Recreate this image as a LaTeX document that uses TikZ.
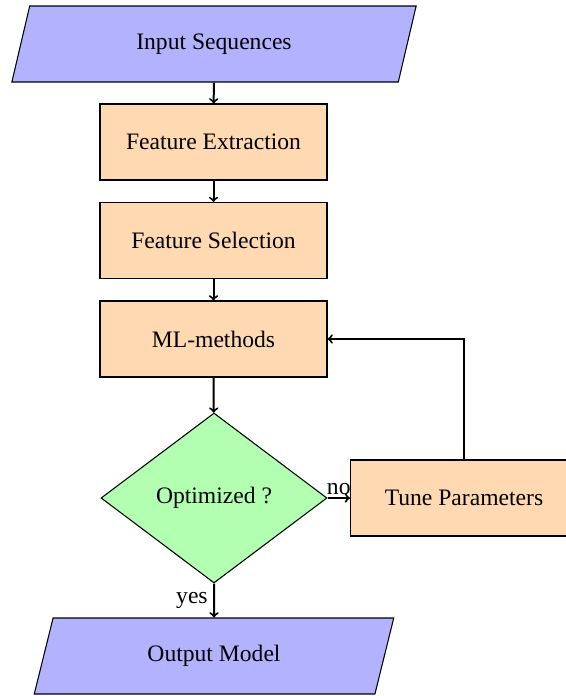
\documentclass[tikz,border=0pt]{standalone}
\usepackage{fontspec}
\setmainfont{Liberation Serif}
\usetikzlibrary{shapes.geometric}
\begin{document}
\begin{tikzpicture}[x=0.75pt,y=-0.75pt,
  every node/.style={font=\fontsize{17.7}{21}\selectfont},
  box/.style={draw=black, line width=0.8pt, rectangle, fill=orange!30, minimum width=170.25pt, minimum height=57pt, inner sep=0pt},
  io/.style={draw=black, line width=0.8pt, trapezium, trapezium left angle=70, trapezium right angle=110, trapezium stretches=true, fill=blue!30, minimum height=57pt, inner sep=0pt},
  decision/.style={draw=black, line width=0.8pt, diamond, fill=green!30, minimum width=169.5pt, minimum height=127.5pt, inner sep=0pt, aspect=1.33},
  conn/.style={->, line width=1.5pt},
  lbl/.style={font=\fontsize{17.7}{21}\selectfont, inner sep=4pt}
]
\useasboundingbox (0,0) rectangle (566,696);
\node[io, minimum width=303.75pt] (in) at (214,44) {Input Sequences};
\node[box] (fe) at (213.5,142) {Feature Extraction};
\node[box] (fs) at (213.5,240.5) {Feature Selection};
\node[box] (ml) at (213.5,339) {ML-methods};
\node[decision] (dec) at (214,498) {Optimized ?};
\node[box] (tp) at (464,498) {Tune Parameters};
\node[io, minimum width=270pt] (out) at (214,656) {Output Model};
\draw[conn] (in) -- (fe);
\draw[conn] (fe) -- (fs);
\draw[conn] (fs) -- (ml);
\draw[conn] (ml) -- (dec);
\draw[conn] (dec) -- node[lbl, above, inner sep=2pt] {no} (tp);
\draw[conn] (dec) -- node[lbl, left] {yes} (out);
\draw[conn] (tp.north) |- (ml.east);
\end{tikzpicture}
\end{document}
